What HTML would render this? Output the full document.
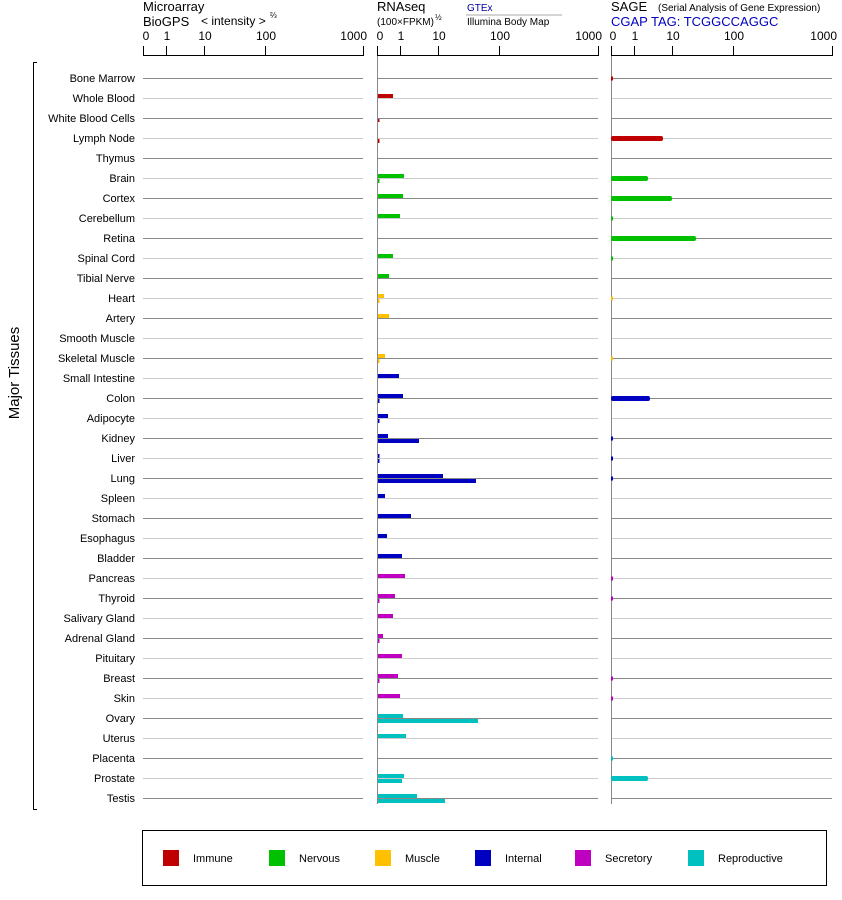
<!DOCTYPE html>
<html><head><meta charset="utf-8"><style>
body{margin:0;background:#fff}
svg{display:block;font-family:"Liberation Sans",sans-serif}
</style></head><body>
<svg width="842" height="900" viewBox="0 0 842 900">
<!-- headers -->
<text x="143" y="11" font-size="13">Microarray</text>
<text x="143" y="26" font-size="13">BioGPS</text>
<text x="201" y="25" font-size="12">&lt; intensity &gt;</text>
<text x="270" y="18" font-size="8">⅔</text>
<text x="377" y="11" font-size="13">RNAseq</text>
<text x="377" y="25" font-size="10">(100×FPKM)</text>
<text x="435" y="20" font-size="8">½</text>
<text x="467" y="11" font-size="10" fill="#0000a0">GTEx</text>
<line x1="466" y1="15" x2="562" y2="15" stroke="#aaa"/>
<text x="467" y="25" font-size="10">Illumina Body Map</text>
<text x="611" y="11" font-size="13">SAGE</text>
<text x="658" y="11" font-size="10">(Serial Analysis of Gene Expression)</text>
<text x="611" y="26" font-size="13" fill="#0000c0">CGAP TAG: TCGGCCAGGC</text>
<g font-size="12" text-anchor="middle">
<text x="146" y="40">0</text><text x="167" y="40">1</text><text x="205" y="40">10</text><text x="266" y="40">100</text><text x="367" y="40" text-anchor="end">1000</text>
<text x="380" y="40">0</text><text x="401" y="40">1</text><text x="439" y="40">10</text><text x="500" y="40">100</text><text x="602" y="40" text-anchor="end">1000</text>
<text x="613" y="40">0</text><text x="635" y="40">1</text><text x="673" y="40">10</text><text x="734" y="40">100</text><text x="837" y="40" text-anchor="end">1000</text>
</g>
<g stroke="#000" stroke-width="1">
<path d="M143.5 46V56M166.5 46V56M204.5 46V56M265.5 46V56M363.5 46V56M143 55.5H364"/>
<path d="M377.5 46V56M400.5 46V56M438.5 46V56M499.5 46V56M598.5 46V56M377 55.5H599"/>
<path d="M611.5 46V56M634.5 46V56M672.5 46V56M733.5 46V56M832.5 46V56M611 55.5H833"/>
</g>
<!-- row lines -->
<g stroke-width="1">
<path stroke="#888" d="M143 78.5H363M377 78.5H598M611 78.5H832M143 118.5H363M377 118.5H598M611 118.5H832M143 158.5H363M377 158.5H598M611 158.5H832M143 198.5H363M377 198.5H598M611 198.5H832M143 238.5H363M377 238.5H598M611 238.5H832M143 278.5H363M377 278.5H598M611 278.5H832M143 318.5H363M377 318.5H598M611 318.5H832M143 358.5H363M377 358.5H598M611 358.5H832M143 398.5H363M377 398.5H598M611 398.5H832M143 438.5H363M377 438.5H598M611 438.5H832M143 478.5H363M377 478.5H598M611 478.5H832M143 518.5H363M377 518.5H598M611 518.5H832M143 558.5H363M377 558.5H598M611 558.5H832M143 598.5H363M377 598.5H598M611 598.5H832M143 638.5H363M377 638.5H598M611 638.5H832M143 678.5H363M377 678.5H598M611 678.5H832M143 718.5H363M377 718.5H598M611 718.5H832M143 758.5H363M377 758.5H598M611 758.5H832M143 798.5H363M377 798.5H598M611 798.5H832"/>
<path stroke="#ccc" d="M143 98.5H363M377 98.5H598M611 98.5H832M143 138.5H363M377 138.5H598M611 138.5H832M143 178.5H363M377 178.5H598M611 178.5H832M143 218.5H363M377 218.5H598M611 218.5H832M143 258.5H363M377 258.5H598M611 258.5H832M143 298.5H363M377 298.5H598M611 298.5H832M143 338.5H363M377 338.5H598M611 338.5H832M143 378.5H363M377 378.5H598M611 378.5H832M143 418.5H363M377 418.5H598M611 418.5H832M143 458.5H363M377 458.5H598M611 458.5H832M143 498.5H363M377 498.5H598M611 498.5H832M143 538.5H363M377 538.5H598M611 538.5H832M143 578.5H363M377 578.5H598M611 578.5H832M143 618.5H363M377 618.5H598M611 618.5H832M143 658.5H363M377 658.5H598M611 658.5H832M143 698.5H363M377 698.5H598M611 698.5H832M143 738.5H363M377 738.5H598M611 738.5H832M143 778.5H363M377 778.5H598M611 778.5H832"/>
</g>
<path d="M377.5 56V804M611.5 56V804" stroke="#888" stroke-width="1"/>
<!-- labels -->
<g font-size="11" text-anchor="end">
<text x="135" y="82">Bone Marrow</text><text x="135" y="102">Whole Blood</text><text x="135" y="122">White Blood Cells</text><text x="135" y="142">Lymph Node</text><text x="135" y="162">Thymus</text><text x="135" y="182">Brain</text><text x="135" y="202">Cortex</text><text x="135" y="222">Cerebellum</text><text x="135" y="242">Retina</text><text x="135" y="262">Spinal Cord</text><text x="135" y="282">Tibial Nerve</text><text x="135" y="302">Heart</text><text x="135" y="322">Artery</text><text x="135" y="342">Smooth Muscle</text><text x="135" y="362">Skeletal Muscle</text><text x="135" y="382">Small Intestine</text><text x="135" y="402">Colon</text><text x="135" y="422">Adipocyte</text><text x="135" y="442">Kidney</text><text x="135" y="462">Liver</text><text x="135" y="482">Lung</text><text x="135" y="502">Spleen</text><text x="135" y="522">Stomach</text><text x="135" y="542">Esophagus</text><text x="135" y="562">Bladder</text><text x="135" y="582">Pancreas</text><text x="135" y="602">Thyroid</text><text x="135" y="622">Salivary Gland</text><text x="135" y="642">Adrenal Gland</text><text x="135" y="662">Pituitary</text><text x="135" y="682">Breast</text><text x="135" y="702">Skin</text><text x="135" y="722">Ovary</text><text x="135" y="742">Uterus</text><text x="135" y="762">Placenta</text><text x="135" y="782">Prostate</text><text x="135" y="802">Testis</text>
</g>
<path d="M37 62.5H33.5V809.5H37" stroke="#000" fill="none"/>
<text transform="translate(19 373) rotate(-90)" font-size="15" text-anchor="middle">Major Tissues</text>
<!-- RNAseq bars -->
<g fill="#c00000"><rect x="378" y="94" width="15" height="4"/><rect x="378" y="119" width="1.5" height="3"/><rect x="378" y="139" width="1.5" height="4"/></g>
<g fill="#00c000"><rect x="378" y="174" width="26" height="4"/><rect x="378" y="179" width="1.5" height="4"/><rect x="378" y="194" width="25" height="4"/><rect x="378" y="214" width="22" height="4"/><rect x="378" y="254" width="15" height="4"/><rect x="378" y="274" width="11" height="4"/></g>
<g fill="#ffc000"><rect x="378" y="294" width="6" height="4"/><rect x="378" y="299" width="1.5" height="4"/><rect x="378" y="314" width="11" height="4"/><rect x="378" y="354" width="7" height="4"/><rect x="378" y="359" width="1.5" height="4"/></g>
<g fill="#0000c0"><rect x="378" y="374" width="21" height="4"/><rect x="378" y="394" width="25" height="4"/><rect x="378" y="399" width="1.5" height="4"/><rect x="378" y="414" width="10" height="4"/><rect x="378" y="419" width="1.5" height="4"/><rect x="378" y="434" width="10" height="4"/><rect x="378" y="439" width="41" height="4"/><rect x="378" y="454" width="1.5" height="4"/><rect x="378" y="459" width="1.5" height="4"/><rect x="378" y="474" width="65" height="4"/><rect x="378" y="479" width="98" height="4"/><rect x="378" y="494" width="7" height="4"/><rect x="378" y="514" width="33" height="4"/><rect x="378" y="534" width="9" height="4"/><rect x="378" y="554" width="24" height="4"/></g>
<g fill="#c000c0"><rect x="378" y="574" width="27" height="4"/><rect x="378" y="594" width="17" height="4"/><rect x="378" y="599" width="1.5" height="4"/><rect x="378" y="614" width="15" height="4"/><rect x="378" y="634" width="5" height="4"/><rect x="378" y="639" width="1.5" height="4"/><rect x="378" y="654" width="24" height="4"/><rect x="378" y="674" width="20" height="4"/><rect x="378" y="679" width="1.5" height="4"/><rect x="378" y="694" width="22" height="4"/></g>
<g fill="#00c0c0"><rect x="378" y="714" width="25" height="4"/><rect x="378" y="719" width="100" height="4"/><rect x="378" y="734" width="28" height="4"/><rect x="378" y="774" width="26" height="4"/><rect x="378" y="779" width="24" height="4"/><rect x="378" y="794" width="39" height="4"/><rect x="378" y="799" width="67" height="4"/></g>
<!-- SAGE bars -->
<g fill="#c00000"><rect x="611" y="76.5" width="2" height="4"/><rect x="611" y="136" width="52" height="5" rx="2"/></g>
<g fill="#00c000"><rect x="611" y="176" width="37" height="5" rx="2"/><rect x="611" y="196" width="61" height="5" rx="2"/><rect x="611" y="216.5" width="2" height="4"/><rect x="611" y="236" width="85" height="5" rx="2"/><rect x="611" y="256.5" width="2" height="4"/></g>
<g fill="#ffc000"><rect x="611" y="296.5" width="2" height="4"/><rect x="611" y="356.5" width="2" height="4"/></g>
<g fill="#0000c0"><rect x="611" y="396" width="39" height="5" rx="2"/><rect x="611" y="436.5" width="2" height="4"/><rect x="611" y="456.5" width="2" height="4"/><rect x="611" y="476.5" width="2" height="4"/></g>
<g fill="#c000c0"><rect x="611" y="576.5" width="2" height="4"/><rect x="611" y="596.5" width="2" height="4"/><rect x="611" y="676.5" width="2" height="4"/><rect x="611" y="696.5" width="2" height="4"/></g>
<g fill="#00c0c0"><rect x="611" y="756.5" width="2" height="4"/><rect x="611" y="776" width="37" height="5" rx="2"/></g>
<!-- legend -->
<rect x="142.5" y="830.5" width="684" height="55" fill="none" stroke="#000"/>
<rect x="163" y="850" width="16" height="16" fill="#c00000"/><text x="193" y="862" font-size="11">Immune</text>
<rect x="269" y="850" width="16" height="16" fill="#00c000"/><text x="299" y="862" font-size="11">Nervous</text>
<rect x="375" y="850" width="16" height="16" fill="#ffc000"/><text x="405" y="862" font-size="11">Muscle</text>
<rect x="475" y="850" width="16" height="16" fill="#0000c0"/><text x="505" y="862" font-size="11">Internal</text>
<rect x="575" y="850" width="16" height="16" fill="#c000c0"/><text x="605" y="862" font-size="11">Secretory</text>
<rect x="688" y="850" width="16" height="16" fill="#00c0c0"/><text x="718" y="862" font-size="11">Reproductive</text>
</svg>
</body></html>
